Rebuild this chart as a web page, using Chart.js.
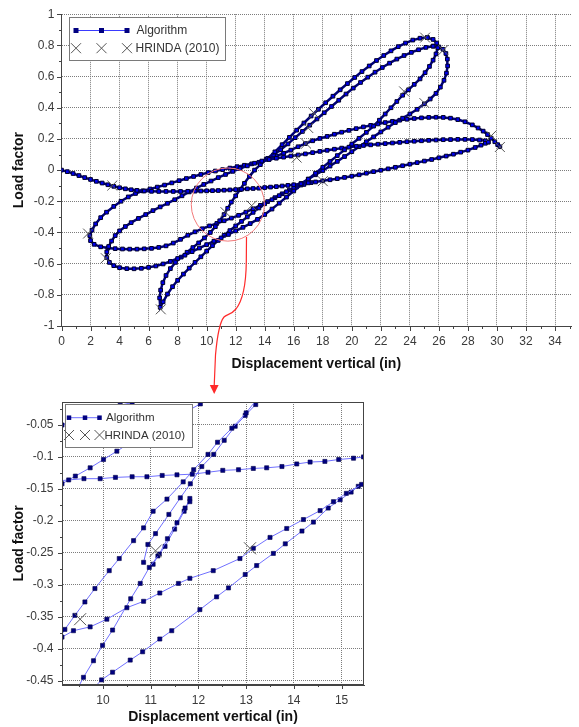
<!DOCTYPE html>
<html><head><meta charset="utf-8">
<script src="https://cdn.jsdelivr.net/npm/chart.js@4.4.1/dist/chart.umd.min.js"></script>
<style>
html,body{margin:0;padding:0;background:#fff;}
#wrap{position:relative;width:579px;height:727px;overflow:hidden;background:#fff;}
#c1{position:absolute;left:0;top:0;}
#c2{position:absolute;left:0;top:380px;}
#ov{position:absolute;left:0;top:0;pointer-events:none;}
</style></head>
<body><div id="wrap">
<canvas id="c1" width="579" height="380"></canvas>
<canvas id="c2" width="579" height="347"></canvas>
<svg id="ov" width="579" height="727">
<path d="M246.5,237 L246.3,262 C246,285 243,300 236,309 C231,315 227,314 224,317 C219,323 217,338 215.5,355 L214.2,386" fill="none" stroke="#ff2a2a" stroke-width="1.2"/>
<polygon points="209.8,385 218.6,385 214.2,394" fill="#ff2a2a"/>
</svg>
</div>
<script>
const FONT = "'Liberation Sans', Arial, Helvetica, sans-serif";
const seriesNames = ['Algorithm', 'HRINDA (2010)'];
const xTitle = 'Displacement vertical (in)';
const yTitle = 'Load factor';

// tick values
const mainXTicks = [0,2,4,6,8,10,12,14,16,18,20,22,24,26,28,30,32,34];
const mainYTicks = [-1,-0.8,-0.6,-0.4,-0.2,0,0.2,0.4,0.6,0.8,1];
const insetXTicks = [10,11,12,13,14,15];
const insetYTicks = [-0.45,-0.4,-0.35,-0.3,-0.25,-0.2,-0.15,-0.1,-0.05];

// ---- main chart: algorithm path (read in strands) ----
const mainPathA = [[0,0],[0.4,-0.01],[0.8,-0.022],[1.2,-0.035],[1.6,-0.048],[2,-0.06],[2.4,-0.072],[2.8,-0.083],[3.2,-0.094],[3.6,-0.104],[4,-0.113],[4.4,-0.12],[4.8,-0.126],[5.2,-0.13],[5.7,-0.134],[6.2,-0.136],[6.7,-0.137],[7.2,-0.137],[7.7,-0.137],[8.2,-0.137],[8.7,-0.136],[9.2,-0.135],[9.6,-0.134],[10,-0.133],[10.4,-0.132],[10.8,-0.131],[11.2,-0.129],[11.6,-0.127],[12,-0.125],[12.4,-0.123],[12.8,-0.12],[13.2,-0.118],[13.6,-0.116],[14,-0.112],[14.4,-0.109],[14.8,-0.106],[15.2,-0.102],[15.6,-0.098],[16,-0.094],[16.5,-0.088],[17,-0.082],[17.5,-0.076],[18,-0.069],[18.5,-0.062],[19,-0.055],[19.5,-0.047],[20,-0.039],[20.5,-0.03],[21,-0.02],[21.5,-0.01],[22,-0.001],[22.5,0.008],[23,0.018],[23.5,0.028],[24,0.038],[24.5,0.048],[25,0.058],[25.5,0.068],[26,0.079],[26.5,0.09],[27,0.102],[27.5,0.115],[28,0.128],[28.5,0.145],[28.9,0.16],[29.2,0.172],[29.4,0.18]];
const mainPathB = [[29.4,0.18],[29.2,0.188],[28.8,0.193],[28.3,0.196],[27.8,0.197],[27.3,0.197],[26.8,0.196],[26.3,0.195],[25.8,0.193],[25.3,0.191],[24.8,0.188],[24.3,0.185],[23.8,0.182],[23.3,0.178],[22.8,0.174],[22.3,0.17],[21.8,0.166],[21.3,0.162],[20.8,0.158],[20.3,0.153],[19.8,0.147],[19.3,0.141],[18.8,0.134],[18.3,0.127],[17.8,0.12],[17.3,0.112],[16.8,0.104],[16.3,0.097],[15.8,0.09],[15.3,0.083],[14.8,0.076],[14.3,0.068],[13.8,0.058],[13.3,0.044],[12.8,0.027],[12.3,0.01],[11.8,-0.008],[11.3,-0.028],[10.8,-0.048],[10.3,-0.07],[9.8,-0.092],[9.3,-0.115],[8.8,-0.14],[8.3,-0.165],[7.8,-0.19],[7.3,-0.213],[6.8,-0.236],[6.3,-0.26],[5.8,-0.285],[5.3,-0.31],[4.8,-0.337],[4.4,-0.362],[4.0,-0.39],[3.7,-0.42],[3.45,-0.455],[3.25,-0.49],[3.12,-0.525],[3.12,-0.56],[3.3,-0.592],[3.6,-0.613],[4.0,-0.626],[4.5,-0.632],[5.0,-0.633],[5.5,-0.63],[6.0,-0.624],[6.5,-0.615],[7.0,-0.602],[7.5,-0.586],[8.0,-0.567],[8.5,-0.546],[9.0,-0.523],[9.5,-0.5],[10.0,-0.478],[10.5,-0.456],[11.0,-0.435],[11.5,-0.413],[12.0,-0.39],[12.5,-0.367],[13.0,-0.343],[13.5,-0.316],[14.0,-0.285],[14.5,-0.25],[15.0,-0.212],[15.5,-0.173],[16.0,-0.134],[16.5,-0.096],[17.0,-0.058],[17.5,-0.02],[18.0,0.018],[18.5,0.055],[19.0,0.093],[19.5,0.13],[20.0,0.167],[20.5,0.204],[21.0,0.242],[21.5,0.282],[21.9,0.32],[22.3,0.36],[22.7,0.4],[23.1,0.44],[23.5,0.48],[23.9,0.515],[24.3,0.55],[24.7,0.585],[25.05,0.625],[25.35,0.665],[25.6,0.705],[25.8,0.745],[25.92,0.785],[25.85,0.815],[25.6,0.838],[25.2,0.85]];
const mainPathC = [[25.2,0.85],[24.7,0.846],[24.2,0.834],[23.7,0.815],[23.2,0.792],[22.7,0.765],[22.2,0.735],[21.7,0.703],[21.2,0.668],[20.7,0.632],[20.2,0.594],[19.7,0.555],[19.2,0.515],[18.7,0.474],[18.2,0.432],[17.7,0.39],[17.2,0.347],[16.7,0.302],[16.2,0.256],[15.7,0.21],[15.2,0.163],[14.7,0.117],[14.2,0.075],[13.7,0.035],[13.3,0.0],[12.95,-0.04],[12.6,-0.085],[12.3,-0.125],[12.0,-0.165],[11.7,-0.205],[11.45,-0.245],[11.2,-0.285],[10.9,-0.325],[10.6,-0.363],[10.25,-0.4],[9.85,-0.435],[9.45,-0.467],[9.05,-0.497],[8.65,-0.527],[8.25,-0.558],[7.85,-0.592],[7.5,-0.632],[7.2,-0.676],[6.98,-0.722],[6.83,-0.77],[6.76,-0.82],[6.8,-0.88],[7.0,-0.845],[7.3,-0.795],[7.65,-0.748],[8.0,-0.707],[8.4,-0.667],[8.8,-0.629],[9.2,-0.592],[9.6,-0.556],[10.0,-0.52],[10.4,-0.485],[10.8,-0.451],[11.2,-0.418],[11.6,-0.388],[12.0,-0.358],[12.4,-0.329],[12.8,-0.3],[13.2,-0.271],[13.6,-0.243],[14.0,-0.216],[14.5,-0.19],[15.0,-0.164],[15.5,-0.139],[16.0,-0.113],[16.5,-0.086],[17.0,-0.058],[17.5,-0.03],[18.0,-0.003],[18.5,0.026],[19.0,0.056],[19.5,0.087],[20.0,0.118],[20.5,0.15],[21.0,0.182],[21.5,0.213],[22.0,0.245],[22.5,0.275],[23.0,0.305],[23.5,0.333],[24.0,0.36],[24.5,0.39],[25.0,0.425],[25.4,0.456],[25.8,0.492],[26.1,0.532],[26.35,0.576],[26.52,0.622],[26.6,0.668],[26.58,0.712],[26.48,0.748],[26.28,0.775],[26.0,0.79],[25.6,0.795]];
const mainPathD = [[25.6,0.795],[25.1,0.787],[24.6,0.772],[24.1,0.755],[23.6,0.735],[23.1,0.712],[22.6,0.686],[22.1,0.658],[21.6,0.628],[21.1,0.596],[20.6,0.562],[20.1,0.526],[19.6,0.488],[19.1,0.448],[18.6,0.408],[18.1,0.368],[17.6,0.328],[17.1,0.288],[16.6,0.248],[16.1,0.208],[15.6,0.168],[15.1,0.13],[14.6,0.097],[14.1,0.069],[13.6,0.05],[13.1,0.04],[12.6,0.031],[12.1,0.022],[11.6,0.013],[11.1,0.003],[10.6,-0.006],[10.1,-0.016],[9.6,-0.028],[9.1,-0.041],[8.6,-0.054],[8.1,-0.068],[7.6,-0.082],[7.1,-0.096],[6.6,-0.109],[6.1,-0.121],[5.6,-0.133],[5.1,-0.15],[4.6,-0.172],[4.1,-0.2],[3.6,-0.233],[3.1,-0.27],[2.7,-0.305],[2.35,-0.345],[2.1,-0.385],[1.95,-0.42],[2.0,-0.452],[2.25,-0.476],[2.7,-0.492],[3.2,-0.5],[3.7,-0.504],[4.2,-0.506],[4.7,-0.507],[5.2,-0.507],[5.7,-0.505],[6.2,-0.502],[6.7,-0.496],[7.2,-0.486],[7.7,-0.468],[8.2,-0.444],[8.7,-0.418],[9.2,-0.396],[9.7,-0.376],[10.2,-0.358],[10.7,-0.342],[11.2,-0.325],[11.7,-0.308],[12.2,-0.29],[12.7,-0.27],[13.2,-0.248],[13.7,-0.226],[14.2,-0.202],[14.7,-0.177],[15.2,-0.152],[15.7,-0.128],[16.2,-0.108],[16.7,-0.092],[17.2,-0.08]];
const mainUpperArc = [[14.3,0.07],[14.8,0.09],[15.3,0.108],[15.8,0.128],[16.3,0.15],[16.8,0.17],[17.3,0.188],[17.8,0.203],[18.3,0.216],[18.8,0.23],[19.3,0.243],[19.8,0.255],[20.3,0.266],[20.8,0.277],[21.3,0.287],[21.8,0.296],[22.3,0.305],[22.8,0.313],[23.3,0.32],[23.8,0.326],[24.3,0.331],[24.8,0.335],[25.3,0.338],[25.8,0.339],[26.3,0.338],[26.8,0.333],[27.3,0.324],[27.8,0.31],[28.3,0.29],[28.7,0.27],[29.05,0.25],[29.35,0.228],[29.6,0.205],[29.85,0.182],[30.05,0.163],[30.2,0.15]];
const mainHrinda = [[3.5,-0.099],[1.83,-0.407],[3.05,-0.565],[6.84,-0.893],[11.3,-0.27],[13.1,-0.228],[18.0,-0.071],[16.2,0.08],[16.85,0.17],[17.0,0.27],[17.4,0.365],[23.6,0.505],[25.0,0.43],[25.05,0.85],[26.3,0.77],[29.6,0.22],[30.2,0.148]];

// red zoom circle (data centre, radius in x units)
const zoomCircle = {x: 11.46, y: -0.221, rx: 2.52};

// ---- inset chart strands ----
const insetA = [[9.0,-0.138],[9.28,-0.136],[9.6,-0.134],[9.94,-0.134],[10.26,-0.132],[10.61,-0.131],[10.92,-0.131],[11.24,-0.129],[11.55,-0.128],[11.87,-0.127],[12.2,-0.124],[12.51,-0.121],[12.84,-0.12],[13.15,-0.118],[13.43,-0.117],[13.75,-0.115],[14.06,-0.111],[14.34,-0.108],[14.65,-0.107],[14.94,-0.104],[15.25,-0.102],[15.46,-0.1],[15.7,-0.097]];
const insetS0 = [[9.0,-0.054],[9.14,-0.05],[9.4,-0.043],[9.7,-0.036],[10.0,-0.029],[10.36,-0.019],[10.61,-0.015],[10.85,-0.008]];
const insetS1 = [[9.0,-0.15],[9.14,-0.142],[9.42,-0.13],[9.73,-0.117],[10.01,-0.104],[10.29,-0.091],[10.54,-0.079],[10.82,-0.067],[11.1,-0.055],[11.4,-0.043],[11.72,-0.03],[12.04,-0.017],[12.3,-0.006]];
const insetP = [[9.0,-0.39],[9.14,-0.382],[9.38,-0.372],[9.73,-0.366],[10.08,-0.354],[10.5,-0.336],[10.85,-0.326],[11.19,-0.313],[11.58,-0.298],[11.82,-0.29],[12.31,-0.278],[12.87,-0.259],[13.15,-0.243],[13.5,-0.226],[13.85,-0.212],[14.2,-0.198],[14.55,-0.184],[14.83,-0.17],[15.1,-0.157],[15.42,-0.143],[15.65,-0.132]];
const insetQ = [[9.8,-0.462],[9.97,-0.449],[10.2,-0.437],[10.57,-0.418],[10.83,-0.405],[11.19,-0.385],[11.44,-0.372],[12.03,-0.339],[12.38,-0.319],[12.63,-0.305],[12.98,-0.284],[13.22,-0.27],[13.57,-0.251],[13.82,-0.236],[14.17,-0.216],[14.41,-0.202],[14.72,-0.18],[14.97,-0.167],[15.2,-0.155],[15.35,-0.146],[15.6,-0.132]];
const insetI1 = [[9.0,-0.395],[9.2,-0.37],[9.41,-0.348],[9.62,-0.327],[9.83,-0.306],[10.13,-0.278],[10.34,-0.259],[10.64,-0.231],[10.85,-0.211],[11.05,-0.185],[11.34,-0.166],[11.68,-0.139],[11.9,-0.12],[12.2,-0.096],[12.4,-0.077],[12.7,-0.055],[13.0,-0.031],[13.2,-0.012],[13.3,-0.004]];
const insetI2 = [[9.45,-0.465],[9.59,-0.445],[9.8,-0.419],[9.99,-0.395],[10.2,-0.371],[10.58,-0.322],[10.78,-0.298],[10.97,-0.273],[11.18,-0.252],[11.35,-0.228],[11.55,-0.203],[11.72,-0.18],[11.82,-0.17]];
const insetI3 = [[10.85,-0.265],[10.94,-0.237],[11.1,-0.22],[11.38,-0.19],[11.62,-0.164],[11.83,-0.142],[12.07,-0.115],[12.32,-0.096],[12.54,-0.074],[12.77,-0.052],[12.98,-0.035],[13.2,-0.018],[13.35,-0.006]];
const insetI4 = [[11.82,-0.165],[11.7,-0.185],[11.5,-0.213],[11.3,-0.24],[11.15,-0.255],[11.05,-0.268]];
const insetHrinda = [[9.52,-0.354],[11.1,-0.247],[13.08,-0.243]];

const toXY = a => a.map(p => ({x: p[0], y: p[1]}));
const fmt = v => String(Number(v.toFixed(3)));

function drawX(ctx, x, y, h) {
  ctx.moveTo(x - h, y - h); ctx.lineTo(x + h, y + h);
  ctx.moveTo(x - h, y + h); ctx.lineTo(x + h, y - h);
}

function drawLegend(ctx, b) {
  ctx.save();
  ctx.fillStyle = '#fff';
  ctx.fillRect(b.x, b.y, b.w, b.h);
  ctx.strokeStyle = '#7a7a7a'; ctx.lineWidth = 1;
  ctx.strokeRect(Math.round(b.x) + 0.5, Math.round(b.y) + 0.5, b.w, b.h);
  // row 1
  const y1 = b.y + b.r1, y2 = b.y + b.r2;
  ctx.strokeStyle = b.lineColor; ctx.lineWidth = 1;
  ctx.beginPath(); ctx.moveTo(b.x + b.m[0], y1); ctx.lineTo(b.x + b.m[2], y1); ctx.stroke();
  ctx.fillStyle = '#000080';
  b.m.forEach(mx => { ctx.fillRect(b.x + mx - b.sq / 2, y1 - b.sq / 2, b.sq, b.sq); });
  ctx.strokeStyle = '#555'; ctx.lineWidth = 1;
  ctx.beginPath();
  b.m.forEach(mx => drawX(ctx, b.x + mx, y2, b.xh));
  ctx.stroke();
  ctx.fillStyle = '#333';
  ctx.font = b.font + 'px ' + FONT;
  ctx.textBaseline = 'middle'; ctx.textAlign = 'left';
  ctx.fillText(seriesNames[0], b.x + b.tx1, y1 + 0.5);
  ctx.fillText(seriesNames[1], b.x + b.tx2, y2 + 0.5);
  ctx.restore();
}

const mainDecor = {
  id: 'mainDecor',
  afterDatasetsDraw(chart) {
    const {ctx, chartArea: a, scales: {x, y}} = chart;
    ctx.save();
    // zoom circle
    const cx = x.getPixelForValue(zoomCircle.x), cy = y.getPixelForValue(zoomCircle.y);
    const r = x.getPixelForValue(zoomCircle.x + zoomCircle.rx) - cx;
    ctx.strokeStyle = '#f27a7a'; ctx.lineWidth = 1;
    ctx.beginPath(); ctx.arc(cx, cy, r, 0, Math.PI * 2); ctx.stroke();
    // axis tick marks
    ctx.strokeStyle = '#444'; ctx.lineWidth = 1;
    ctx.beginPath();
    for (let i = 0; i <= 20; i++) {
      const v = -1 + i * 0.1;
      const py = Math.round(y.getPixelForValue(v)) + 0.5;
      ctx.moveTo(Math.round(a.left), py); ctx.lineTo(Math.round(a.left) - (i % 2 === 0 ? 5 : 3), py);
    }
    for (let v = 0; v <= 35; v++) {
      const px = Math.round(x.getPixelForValue(v)) + 0.5;
      ctx.moveTo(px, Math.round(a.bottom)); ctx.lineTo(px, Math.round(a.bottom) + (v % 2 === 0 ? 5 : 3));
    }
    ctx.stroke();
    ctx.restore();
  },
  afterDraw(chart) {
    const a = chart.chartArea;
    drawLegend(chart.ctx, {x: a.left + 7.5, y: a.top + 3, w: 156, h: 43, r1: 13.3, r2: 31,
      m: [7, 32.5, 58], tx1: 67.5, tx2: 66.5, sq: 5, xh: 5, font: 12, lineColor: '#3a3aff'});
  }
};

const insetDecor = {
  id: 'insetDecor',
  afterDatasetsDraw(chart) {
    const {ctx, chartArea: a, scales: {x, y}} = chart;
    ctx.save();
    ctx.strokeStyle = '#444'; ctx.lineWidth = 1;
    ctx.strokeRect(Math.round(a.left) + 0.5, Math.round(a.top) + 0.5, Math.round(a.right - a.left) - 1, Math.round(a.bottom - a.top) - 1);
    ctx.beginPath();
    for (let i = 0; i <= 20; i++) {
      const v = -0.475 + i * 0.025;
      if (v < -0.457 || v > -0.014) continue;
      const py = Math.round(y.getPixelForValue(v)) + 0.5;
      ctx.moveTo(Math.round(a.left), py); ctx.lineTo(Math.round(a.left) - (Math.abs(v * 40 - Math.round(v * 40)) < 1e-6 && Math.round(Math.abs(v) * 1000) % 50 === 0 ? 4 : 2), py);
    }
    for (let i = 0; i <= 14; i++) {
      const v = 9 + i * 0.5;
      if (v < 9.14 || v > 15.47) continue;
      const px = Math.round(x.getPixelForValue(v)) + 0.5;
      ctx.moveTo(px, Math.round(a.bottom)); ctx.lineTo(px, Math.round(a.bottom) + (v % 1 === 0 ? 4 : 2));
    }
    ctx.stroke();
    ctx.restore();
  },
  afterDraw(chart) {
    const a = chart.chartArea;
    drawLegend(chart.ctx, {x: a.left + 3, y: a.top + 2, w: 127, h: 43, r1: 13.7, r2: 31,
      m: [4, 20, 34.5], tx1: 41, tx2: 39.5, sq: 4.5, xh: 5, font: 11.5, lineColor: '#6f6fff'});
  }
};

function axisCommon(ticks, fmtFn, pad, grid) {
  return {
    type: 'linear',
    afterBuildTicks: s => { s.ticks = ticks.map(v => ({value: v})); },
    ticks: {font: {family: FONT, size: 12}, color: '#3a3a3a', padding: pad, callback: v => fmtFn(v), autoSkip: false, maxRotation: 0},
    grid: {color: grid, lineWidth: 1, drawTicks: false},
    border: {display: true, color: '#444', width: 1, dash: [1, 1]}
  };
}

const mainStrands = [mainPathA, mainPathB, mainPathC, mainPathD, mainUpperArc];

new Chart(document.getElementById('c1'), {
  type: 'scatter',
  data: {datasets: [
    {label: seriesNames[1], data: toXY(mainHrinda), showLine: false, pointStyle: 'crossRot', pointRadius: 7, pointBorderColor: '#555', pointBackgroundColor: 'rgba(0,0,0,0)', pointBorderWidth: 1, order: 0},
    ...mainStrands.map(s => ({label: seriesNames[0], data: toXY(s), showLine: true, borderColor: '#00007a', borderWidth: 2.5, tension: 0,
      pointStyle: 'rect', pointRadius: 2.6, pointBackgroundColor: '#0000ee', pointBorderColor: '#000028', pointBorderWidth: 1, order: 1}))
  ]},
  options: {
    responsive: false, animation: false, events: [],
    layout: {padding: {top: 8, left: 0, right: 0, bottom: 0}},
    plugins: {legend: {display: false}, tooltip: {enabled: false}},
    scales: {
      x: Object.assign(axisCommon(mainXTicks, fmt, 8.5, '#7c7c7c'), {
        min: 0, max: 35.1, afterFit: s => { s.height = 54; },
        title: {display: true, text: xTitle, font: {family: FONT, size: 14, weight: 'bold'}, color: '#111', padding: {top: 0, bottom: 7.6}}
      }),
      y: Object.assign(axisCommon(mainYTicks, fmt, 7, '#7c7c7c'), {
        min: -1, max: 1, afterFit: s => { s.width = 61.5; },
        title: {display: true, text: yTitle, font: {family: FONT, size: 14, weight: 'bold'}, color: '#111', padding: {top: 10.6, bottom: 0}}
      })
    }
  },
  plugins: [mainDecor]
});

const insetStrands = [insetA, insetS0, insetS1, insetP, insetQ, insetI1, insetI2, insetI3, insetI4];

new Chart(document.getElementById('c2'), {
  type: 'scatter',
  data: {datasets: [
    {label: seriesNames[1], data: toXY(insetHrinda), showLine: false, pointStyle: 'crossRot', pointRadius: 8.5, pointBorderColor: '#555', pointBackgroundColor: 'rgba(0,0,0,0)', pointBorderWidth: 1, order: 0, clip: 0},
    ...insetStrands.map(s => ({label: seriesNames[0], data: toXY(s), showLine: true, borderColor: '#7070ff', borderWidth: 1, tension: 0,
      pointStyle: 'rect', pointRadius: 2.9, pointBackgroundColor: '#000080', pointBorderColor: '#00004a', pointBorderWidth: 0.6, order: 1, clip: 0}))
  ]},
  options: {
    responsive: false, animation: false, events: [],
    layout: {padding: {top: 22, left: 0, right: 215, bottom: 0}},
    plugins: {legend: {display: false}, tooltip: {enabled: false}},
    scales: {
      x: Object.assign(axisCommon(insetXTicks, fmt, 8.6, '#7c7c7c'), {
        min: 9.14, max: 15.47, afterFit: s => { s.height = 42; },
        title: {display: true, text: xTitle, font: {family: FONT, size: 14, weight: 'bold'}, color: '#111', padding: {top: 0, bottom: 1.6}}
      }),
      y: Object.assign(axisCommon(insetYTicks, fmt, 8.5, '#7c7c7c'), {
        min: -0.457, max: -0.014, afterFit: s => { s.width = 62; },
        title: {display: true, text: yTitle, font: {family: FONT, size: 14, weight: 'bold'}, color: '#111', padding: {top: 10.6, bottom: 0}}
      })
    }
  },
  plugins: [insetDecor]
});
</script>
</body></html>
